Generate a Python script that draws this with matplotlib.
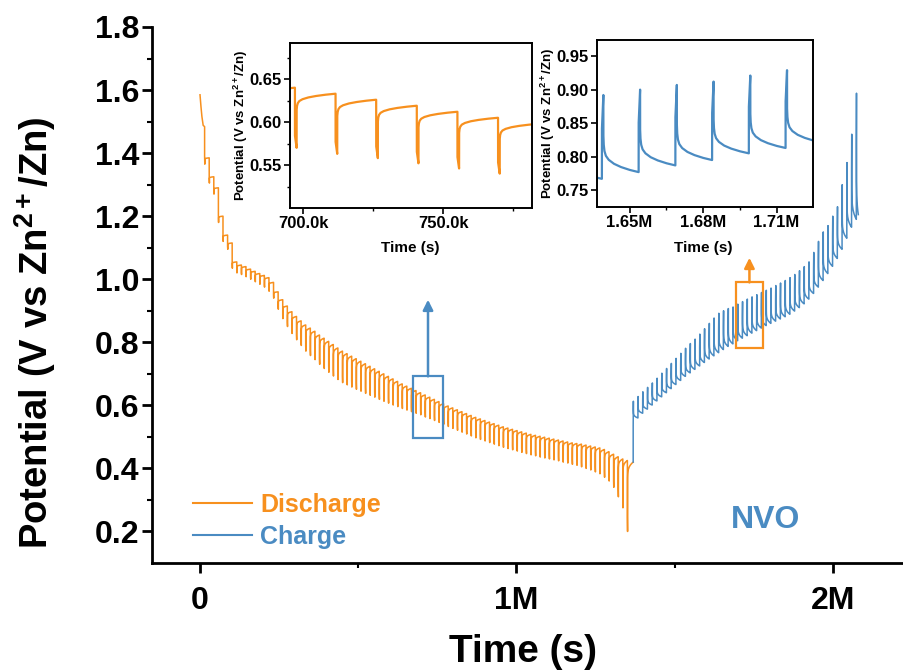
import numpy as np
import matplotlib
matplotlib.use('Agg')
import matplotlib.pyplot as plt
from matplotlib.lines import Line2D
from matplotlib.patches import Rectangle
from matplotlib.ticker import FixedLocator, FixedFormatter

plt.rcParams['font.family'] = ['Liberation Sans', 'DejaVu Sans']
plt.rcParams['font.weight'] = 'bold'
plt.rcParams['mathtext.fontset'] = 'custom'
plt.rcParams['mathtext.rm'] = 'Liberation Sans:bold'
plt.rcParams['mathtext.it'] = 'Liberation Sans:bold'
plt.rcParams['mathtext.bf'] = 'Liberation Sans:bold'

ORANGE = '#F7901E'
BLUE = '#4A8BC2'

# ---------------- data ----------------
# Discharge GITT: initial rest, then pulses every dis_period seconds
dis_period = 14.52e3
pulse_len = 600.0
dis_init_t = [0.0, 3.0e3, 6.0e3, 10.0e3]
dis_init_v = [1.585, 1.548, 1.516, 1.488]
# relaxed potential before each discharge pulse (last value = end of final rest)
dis_top = [1.484, 1.385, 1.325, 1.290, 1.200, 1.140, 1.115, 1.055, 1.045, 1.040,
           1.032, 1.025, 1.018, 1.012, 1.005, 0.990, 0.960, 0.935, 0.915, 0.897,
           0.882, 0.868, 0.855, 0.845, 0.835, 0.823, 0.813, 0.803, 0.793, 0.782,
           0.772, 0.764, 0.756, 0.748, 0.740, 0.732, 0.724, 0.716, 0.708, 0.700,
           0.692, 0.684, 0.676, 0.668, 0.661, 0.654, 0.647, 0.640, 0.633, 0.626,
           0.619, 0.612, 0.605, 0.598, 0.592, 0.586, 0.580, 0.574, 0.568, 0.562,
           0.557, 0.552, 0.547, 0.542, 0.537, 0.532, 0.528, 0.524, 0.520, 0.516,
           0.512, 0.508, 0.505, 0.502, 0.499, 0.496, 0.493, 0.490, 0.487, 0.484,
           0.481, 0.479, 0.477, 0.474, 0.471, 0.468, 0.465, 0.460, 0.453, 0.445,
           0.437, 0.430, 0.425, 0.420]
# potential at the end of each discharge pulse
dis_dip = [1.365, 1.305, 1.270, 1.180, 1.120, 1.095, 1.035, 1.020, 1.015, 1.008,
           1.000, 0.992, 0.984, 0.975, 0.962, 0.940, 0.905, 0.875, 0.850, 0.828,
           0.808, 0.790, 0.772, 0.758, 0.745, 0.730, 0.717, 0.705, 0.693, 0.682,
           0.672, 0.665, 0.658, 0.651, 0.645, 0.638, 0.632, 0.626, 0.619, 0.613,
           0.607, 0.601, 0.596, 0.590, 0.585, 0.580, 0.575, 0.570, 0.563, 0.558,
           0.552, 0.546, 0.540, 0.533, 0.527, 0.521, 0.515, 0.509, 0.503, 0.497,
           0.492, 0.487, 0.482, 0.477, 0.472, 0.467, 0.463, 0.459, 0.455, 0.451,
           0.447, 0.443, 0.440, 0.436, 0.433, 0.430, 0.427, 0.424, 0.420, 0.417,
           0.413, 0.410, 0.405, 0.400, 0.395, 0.389, 0.383, 0.372, 0.360, 0.340,
           0.310, 0.275, 0.200]

# Charge GITT
chg_start = 1.3687e6
chg_period = 15.0e3
chg_end = 2.080e6
chg_base = [0.420, 0.560, 0.575, 0.588, 0.601, 0.614, 0.627, 0.640, 0.653, 0.666,
            0.679, 0.692, 0.703, 0.714, 0.725, 0.736, 0.747, 0.757, 0.767, 0.777,
            0.787, 0.795, 0.805, 0.813, 0.821, 0.829, 0.837, 0.845, 0.853, 0.860,
            0.867, 0.874, 0.881, 0.889, 0.899, 0.910, 0.922, 0.937, 0.955, 0.975,
            0.996, 1.018, 1.041, 1.066, 1.095, 1.130, 1.165, 1.190, 1.205]
chg_peak = [0.613, 0.628, 0.643, 0.657, 0.671, 0.686, 0.702, 0.717, 0.733, 0.749,
            0.765, 0.781, 0.796, 0.810, 0.826, 0.843, 0.860, 0.877, 0.892, 0.900,
            0.907, 0.912, 0.921, 0.929, 0.937, 0.944, 0.951, 0.958, 0.965, 0.972,
            0.980, 0.988, 0.996, 1.005, 1.015, 1.027, 1.040, 1.055, 1.085, 1.120,
            1.150, 1.170, 1.200, 1.230, 1.300, 1.370, 1.460, 1.590]

# relaxation profile (fraction of rest time, fraction recovered)
relax_t = [0.0, 0.01, 0.03, 0.07, 0.15, 0.30, 0.50, 0.75, 1.0]
relax_f = [0.0, 0.25, 0.42, 0.55, 0.66, 0.77, 0.86, 0.94, 1.0]

# axis ticks
main_xticks = [0, 1e6, 2e6]
main_xticklabels = ['0', '1M', '2M']
main_yticks = [0.2, 0.4, 0.6, 0.8, 1.0, 1.2, 1.4, 1.6, 1.8]
in1_xticks = [700e3, 750e3]
in1_xticklabels = ['700.0k', '750.0k']
in1_yticks = [0.55, 0.60, 0.65]
in2_xticks = [1.65e6, 1.68e6, 1.71e6]
in2_xticklabels = ['1.65M', '1.68M', '1.71M']
in2_yticks = [0.75, 0.80, 0.85, 0.90, 0.95]


def discharge_trace():
    t = list(dis_init_t)
    v = list(dis_init_v)
    n = len(dis_dip)
    for j in range(n):
        ts = (j + 1) * dis_period
        top, dip, nxt = dis_top[j], dis_dip[j], dis_top[j + 1]
        rest_end = (j + 2) * dis_period if j < n - 1 else chg_start
        t += [ts, ts + 20, ts + pulse_len]
        v += [top, top - 0.8 * (top - dip), dip]
        rec = dip + 0.7 * (nxt - dip)
        r0 = ts + pulse_len + 20
        for a, f in zip(relax_t, relax_f):
            t.append(r0 + a * (rest_end - r0))
            v.append(rec + f * (nxt - rec))
    return np.array(t), np.array(v)


def charge_trace():
    t, v = [], []
    n = len(chg_peak)
    for c in range(n):
        ts = chg_start + c * chg_period
        base, peak, nxt = chg_base[c], chg_peak[c], chg_base[c + 1]
        rest_end = ts + chg_period if c < n - 1 else chg_end
        t += [ts, ts + 20, ts + pulse_len]
        v += [base, base + 0.6 * (peak - base), peak]
        rec = nxt + 0.47 * (peak - nxt)
        r0 = ts + pulse_len + 20
        for a, f in zip(relax_t, relax_f):
            t.append(r0 + a * (rest_end - r0))
            v.append(rec + f * (nxt - rec))
    return np.array(t), np.array(v)


td, vd = discharge_trace()
tc, vc = charge_trace()

W, H = 904, 670
fig = plt.figure(figsize=(W / 100, H / 100), dpi=100)


def fr(x0, y0, x1, y1):
    return [x0 / W, 1 - y1 / H, (x1 - x0) / W, (y1 - y0) / H]


# ---------------- main axes ----------------
ax = fig.add_axes(fr(152, 27, 904, 563))
ax.plot(td, vd, color=ORANGE, lw=1.1)
ax.plot(tc, vc, color=BLUE, lw=1.1)
ax.set_xlim(-0.1517e6, 2.2244e6)
ax.set_ylim(0.1, 1.8)
for s in ['top', 'right']:
    ax.spines[s].set_visible(False)
for s in ['left', 'bottom']:
    ax.spines[s].set_linewidth(2.0)
ax.xaxis.set_major_locator(FixedLocator(main_xticks))
ax.xaxis.set_major_formatter(FixedFormatter(main_xticklabels))
ax.xaxis.set_minor_locator(FixedLocator([0.5e6, 1.5e6]))
ax.yaxis.set_major_locator(FixedLocator(main_yticks))
ax.yaxis.set_major_formatter(FixedFormatter([f'{y:.1f}' for y in main_yticks]))
ax.yaxis.set_minor_locator(FixedLocator([0.3, 0.5, 0.7, 0.9, 1.1, 1.3, 1.5, 1.7]))
ax.tick_params(which='major', direction='out', length=7.5, width=2, labelsize=23)
ax.tick_params(which='minor', direction='out', length=3.5, width=1.5)
ax.tick_params(axis='x', which='major', pad=9)
ax.tick_params(axis='y', which='major', pad=1.5)
for lab in ax.get_xticklabels() + ax.get_yticklabels():
    lab.set_fontweight('bold')
ax.set_xlabel('Time (s)', fontsize=28, fontweight='bold')
ax.xaxis.set_label_coords(0.493, -0.166)
ax.xaxis.label.set_verticalalignment('center')
ax.set_ylabel(r'Potential (V vs Zn$^{2+}$/Zn)', fontsize=27.5, fontweight='bold')
ax.yaxis.set_label_coords(-0.1556, 0.429)
ax.yaxis.label.set_verticalalignment('center')

# boxes and arrows
ax.add_patch(Rectangle((0.672e6, 0.497), 0.097e6, 0.195, fill=False, ec=BLUE, lw=1.6, zorder=5))
ax.annotate('', xy=(0.7204e6, 0.935), xytext=(0.7204e6, 0.692),
            arrowprops=dict(arrowstyle='-|>', color=BLUE, lw=1.8, mutation_scale=15, shrinkA=0, shrinkB=0))
ax.add_patch(Rectangle((1.6926e6, 0.782), 0.0874e6, 0.208, fill=False, ec=ORANGE, lw=1.6, zorder=5))
ax.annotate('', xy=(1.736e6, 1.068), xytext=(1.736e6, 0.990),
            arrowprops=dict(arrowstyle='-|>', color=ORANGE, lw=1.8, mutation_scale=15, shrinkA=0, shrinkB=0))

handles = [Line2D([], [], color=ORANGE, lw=1.5), Line2D([], [], color=BLUE, lw=1.5)]
ax.legend(handles, ['Discharge', 'Charge'], loc='lower left', bbox_to_anchor=(0.0545, 0.026),
          frameon=False, prop={'size': 18, 'weight': 'bold'}, handlelength=2.36,
          handletextpad=0.32, labelspacing=0.32, borderpad=0, borderaxespad=0,
          labelcolor=[ORANGE, BLUE])
ax.text(0.8165, 0.0802, 'NVO', transform=ax.transAxes, ha='center', va='center',
        fontsize=23, fontweight='bold', color=BLUE)


def style_inset(a):
    for s in a.spines.values():
        s.set_linewidth(1.4)
    a.tick_params(which='major', direction='out', length=4, width=1.2, labelsize=12, pad=2)
    a.tick_params(which='minor', direction='out', length=2.5, width=1.0)
    for lab in a.get_xticklabels() + a.get_yticklabels():
        lab.set_fontweight('bold')


# ---------------- inset 1 (discharge) ----------------
a1 = fig.add_axes(fr(290, 43, 532, 208))
a1.plot(td, vd, color=ORANGE, lw=1.6)
a1.set_xlim(695.2e3, 781.7e3)
a1.set_ylim(0.500, 0.692)
a1.xaxis.set_major_locator(FixedLocator(in1_xticks))
a1.xaxis.set_major_formatter(FixedFormatter(in1_xticklabels))
a1.xaxis.set_minor_locator(FixedLocator([725e3, 775e3]))
a1.yaxis.set_major_locator(FixedLocator(in1_yticks))
a1.yaxis.set_major_formatter(FixedFormatter([f'{y:.2f}' for y in in1_yticks]))
a1.yaxis.set_minor_locator(FixedLocator([0.525, 0.575, 0.625, 0.675]))
style_inset(a1)
a1.set_xlabel('Time (s)', fontsize=11, fontweight='bold')
a1.xaxis.set_label_coords((410.7 - 290) / 242, -(248 - 208) / 165)
a1.xaxis.label.set_verticalalignment('center')
a1.set_ylabel(r'Potential (V vs Zn$^{2+}$/Zn)', fontsize=9.5, fontweight='bold')
a1.yaxis.set_label_coords(-(290 - 240.7) / 242, 0.5)
a1.yaxis.label.set_verticalalignment('center')

# ---------------- inset 2 (charge) ----------------
a2 = fig.add_axes(fr(597, 40, 813, 207))
a2.plot(tc, vc, color=BLUE, lw=1.6)
a2.set_xlim(1.6367e6, 1.7249e6)
a2.set_ylim(0.725, 0.974)
a2.xaxis.set_major_locator(FixedLocator(in2_xticks))
a2.xaxis.set_major_formatter(FixedFormatter(in2_xticklabels))
a2.xaxis.set_minor_locator(FixedLocator([1.665e6, 1.695e6]))
a2.yaxis.set_major_locator(FixedLocator(in2_yticks))
a2.yaxis.set_major_formatter(FixedFormatter([f'{y:.2f}' for y in in2_yticks]))
style_inset(a2)
a2.set_xlabel('Time (s)', fontsize=11, fontweight='bold')
a2.xaxis.set_label_coords((703 - 597) / 216, -(248 - 207) / 167)
a2.xaxis.label.set_verticalalignment('center')
a2.set_ylabel(r'Potential (V vs Zn$^{2+}$/Zn)', fontsize=9.5, fontweight='bold')
a2.yaxis.set_label_coords(-(597 - 548) / 216, 0.5)
a2.yaxis.label.set_verticalalignment('center')

fig.savefig('out.png', dpi=100)
